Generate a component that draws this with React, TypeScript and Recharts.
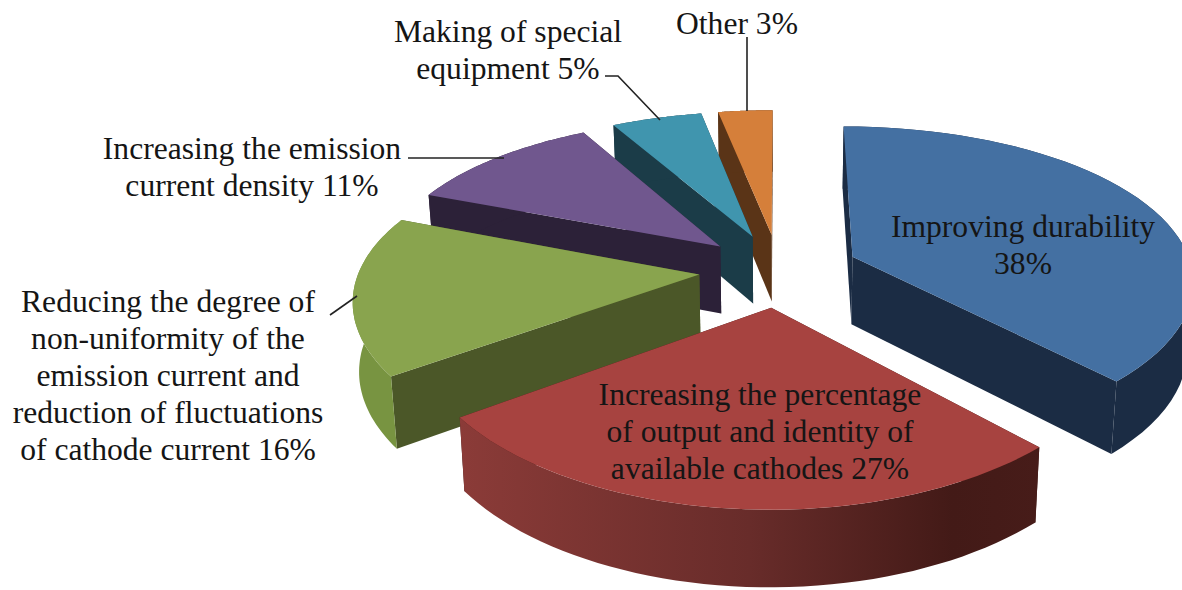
import { PieChart, Pie } from 'recharts';

const categories = [
  'Improving durability',
  'Increasing the percentage of output and identity of available cathodes',
  'Reducing the degree of non-uniformity of the emission current and reduction of fluctuations of cathode current',
  'Increasing the emission current density',
  'Making of special equipment',
  'Other',
];
const shares = [38, 27, 16, 11, 5, 3];
const topColors = ['#4470a2', '#a74340', '#89a44e', '#70578e', '#4095ae', '#d57f3a'];
const wallColors = ['#1b2c44', '#3f1a16', '#4b5728', '#2c2138', '#1b3c48', '#5a3417'];
const rimColors = ['#1b2c44', 'url(#redRim)', '#789441', '#2c2138', '#1b3c48', '#5a3417'];

const labelLines = [
  ['Improving durability', '38%'],
  ['Increasing the percentage', 'of output and identity of', 'available cathodes 27%'],
  [
    'Reducing the degree of',
    'non-uniformity of the',
    'emission current and',
    'reduction of fluctuations',
    'of cathode current 16%',
  ],
  ['Increasing the emission', 'current density 11%'],
  ['Making of special', 'equipment 5%'],
  ['Other 3%'],
];

// label placement: centre x, first baseline, leader line
const labelSpots = [
  { x: 1023, y: 237, leader: '' },
  { x: 760, y: 405, leader: '' },
  { x: 168, y: 312, leader: 'M330,315 L357,296' },
  { x: 252, y: 159, leader: 'M408,158 L504,158' },
  { x: 508, y: 42, leader: 'M605,76 L618,76 L660,120' },
  { x: 737, y: 34, leader: 'M747,37 L747,111' },
];

// drawn back to front, so the pie runs counter-clockwise from the top
const tableData = categories
  .map((name, i) => ({
    name,
    value: shares[i],
    fill: topColors[i],
    wall: wallColors[i],
    rim: rimColors[i],
    idx: i,
  }))
  .reverse();

const EXPLODE = 80;
const TILT = 0.457;
const PERSP_X = 0.14;
const PERSP_Y = 0.162;
const DEPTH = 68;
const BOTTOM_X = 0.985;
const BOTTOM_Y = 1.04;
const RAD = Math.PI / 180;

type Pt = [number, number];

function toPath(pts: Pt[]) {
  return 'M' + pts.map((p) => `${p[0].toFixed(1)},${p[1].toFixed(1)}`).join(' L') + ' Z';
}

function Slice3D(props: any) {
  const { cx, cy, outerRadius: R, startAngle, endAngle } = props;
  const wall = props.wall ?? props.payload?.wall;
  const rim = props.rim ?? props.payload?.rim;
  const mid = ((startAngle + endAngle) / 2) * RAD;
  const ox = EXPLODE * Math.cos(mid);
  const oy = -EXPLODE * Math.sin(mid);

  const top = (u: number, v: number): Pt => {
    const x = ox + u;
    const y = oy + v;
    return [
      cx + x / (1 - (PERSP_X * y) / R),
      cy + (y * TILT) / (1 - (PERSP_Y * y) / R),
    ];
  };
  const bottom = (p: Pt): Pt => [
    cx + (p[0] - cx) * BOTTOM_X,
    cy + (p[1] - cy) * BOTTOM_Y + DEPTH,
  ];

  const arc: Pt[] = [];
  const steps = 48;
  for (let i = 0; i <= steps; i++) {
    const a = (startAngle + ((endAngle - startAngle) * i) / steps) * RAD;
    arc.push(top(R * Math.cos(a), -R * Math.sin(a)));
  }
  const apex = top(0, 0);
  const first = arc[0];
  const last = arc[arc.length - 1];

  return (
    <g>
      <defs>
        <linearGradient id="redRim" x1="0" y1="0" x2="1" y2="0">
          <stop offset="0%" stopColor="#8b3b38" />
          <stop offset="50%" stopColor="#682c2a" />
          <stop offset="85%" stopColor="#431a17" />
          <stop offset="100%" stopColor="#471c19" />
        </linearGradient>
      </defs>
      <path d={toPath([apex, first, bottom(first), bottom(apex)])} fill={wall} />
      <path d={toPath([apex, last, bottom(last), bottom(apex)])} fill={wall} />
      <path d={toPath([...arc, ...arc.map(bottom).reverse()])} fill={rim} />
      <path d={toPath([apex, ...arc])} fill={props.fill} />
    </g>
  );
}

function SliceLabel(props: any) {
  const i = props.idx ?? props.payload?.idx;
  const spot = labelSpots[i];
  return (
    <g>
      {spot.leader && <path d={spot.leader} fill="none" stroke="#222222" strokeWidth={1.6} />}
      <text
        x={spot.x}
        y={spot.y}
        textAnchor="middle"
        fontFamily="'Liberation Serif', serif"
        fontSize={31.6}
        fill="#151515"
      >
        {labelLines[i].map((line, n) => (
          <tspan key={n} x={spot.x} dy={n === 0 ? 0 : 37}>
            {line}
          </tspan>
        ))}
      </text>
    </g>
  );
}

export default function App() {
  return (
    <div style={{ position: 'absolute', left: 0, top: 0, width: 1182, height: 590, background: '#fff' }}>
      <PieChart width={1182} height={590} margin={{ top: 0, right: 0, bottom: 0, left: 0 }}>
        <Pie
          data={tableData}
          dataKey="value"
          nameKey="name"
          cx={779}
          cy={270}
          innerRadius={0}
          outerRadius={340}
          startAngle={90}
          endAngle={450}
          stroke="none"
          shape={Slice3D}
          label={SliceLabel}
          labelLine={false}
          isAnimationActive={false}
        />
      </PieChart>
    </div>
  );
}
